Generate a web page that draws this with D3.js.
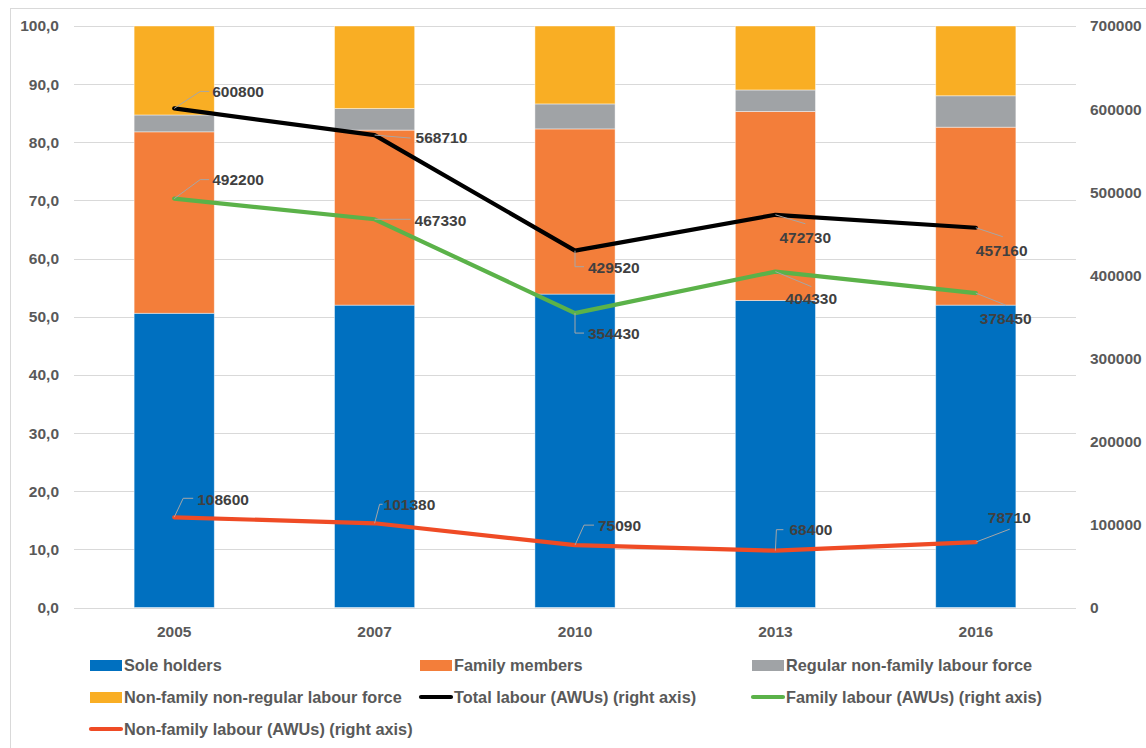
<!DOCTYPE html>
<html>
<head>
<meta charset="utf-8">
<script src="https://cdn.jsdelivr.net/npm/d3@7"></script>
<style>
  html, body { margin: 0; padding: 0; background: #fff; }
  svg { display: block; font-family: "Liberation Sans", Arial, sans-serif; }
</style>
</head>
<body>
<svg id="chart" width="1146" height="748"></svg>
<script>
// Years surveyed
const years = ["2005", "2007", "2010", "2013", "2016"];

// Share of labour force by category (%), stacked bars
const soleHolders = [50.6, 52.0, 53.9, 52.8, 52.0];
const familyMembers = [31.2, 30.1, 28.4, 32.5, 30.6];
const regularNonFamily = [2.9, 3.7, 4.3, 3.7, 5.4];
const nonRegularNonFamily = [15.3, 14.2, 13.4, 11.0, 12.0];

// Annual work units (right axis)
const totalLabour = [600800, 568710, 429520, 472730, 457160];
const familyLabour = [492200, 467330, 354430, 404330, 378450];
const nonFamilyLabour = [108600, 101380, 75090, 68400, 78710];

// Axis ticks
const leftTicks = [0, 10, 20, 30, 40, 50, 60, 70, 80, 90, 100];
const rightTicks = [0, 100000, 200000, 300000, 400000, 500000, 600000, 700000];

const barSeries = [
  { name: "Sole holders", values: soleHolders, color: "#0070C0" },
  { name: "Family members", values: familyMembers, color: "#F37E3A" },
  { name: "Regular non-family labour force", values: regularNonFamily, color: "#A0A3A6" },
  { name: "Non-family non-regular labour force", values: nonRegularNonFamily, color: "#F9AE24" }
];

const lineSeries = [
  { name: "Total labour (AWUs) (right axis)", values: totalLabour, color: "#000000" },
  { name: "Family labour (AWUs) (right axis)", values: familyLabour, color: "#5BB249" },
  { name: "Non-family labour (AWUs) (right axis)", values: nonFamilyLabour, color: "#EF4B25" }
];

// Data label placement: text offset (left edge, vertical centre) and leader polyline, relative to the point
const labelLayout = [
  [ // total
    { t: [38, -17], l: [[0, 0], [26, -17], [35, -17]] },
    { t: [41, 3],   l: [[0, 0], [36, 3]] },
    { t: [13, 17],  l: [[0, 0], [0, 16], [9, 16]] },
    { t: [4, 23],   l: [[0, 0], [30, 9]] },
    { t: [0, 23],   l: [[0, 0], [27, 9]] }
  ],
  [ // family
    { t: [38, -19], l: [[0, 0], [26, -19], [35, -19]] },
    { t: [40, 1],   l: [[0, 0], [36, 0]] },
    { t: [13, 21],  l: [[0, 0], [0, 20], [9, 20]] },
    { t: [10, 27],  l: [[0, 0], [36, 15]] },
    { t: [4, 25],   l: [[0, 0], [30, 12]] }
  ],
  [ // non-family
    { t: [23, -18], l: [[0, 0], [9, -19], [19, -19]] },
    { t: [9, -19],  l: [[0, 0], [5, -19], [8, -19]] },
    { t: [23, -20], l: [[0, 0], [9, -20], [19, -20]] },
    { t: [14, -21], l: [[0, 0], [1, -21], [8, -21]] },
    { t: [12, -25], l: [[0, 0], [34, -13]] }
  ]
];

const svg = d3.select("#chart");
const W = 1146, H = 748;
const plot = { left: 74, right: 1076, top: 26, bottom: 607.5 };
const FONT = "Liberation Sans, Arial, sans-serif";

// Chart frame
svg.append("rect")
  .attr("x", 10.5).attr("y", 8.5)
  .attr("width", W - 10).attr("height", H - 7)
  .attr("fill", "#fff").attr("stroke", "#D9D9D9").attr("stroke-width", 1);

const x = d3.scaleBand().domain(years).range([plot.left, plot.right]).paddingInner(0.6).paddingOuter(0.3);
const yL = d3.scaleLinear().domain([0, 100]).range([plot.bottom, plot.top]);
const yR = d3.scaleLinear().domain([0, 700000]).range([plot.bottom, plot.top]);

// Gridlines
svg.append("g")
  .selectAll("line")
  .data(leftTicks)
  .join("line")
  .attr("x1", plot.left).attr("x2", plot.right)
  .attr("y1", d => Math.round(yL(d)) + 0.5).attr("y2", d => Math.round(yL(d)) + 0.5)
  .attr("stroke", "#D9D9D9").attr("stroke-width", 1);

function styleAxisText(g) {
  g.select(".domain").remove();
  g.selectAll("text")
    .attr("font-size", 15.5).attr("font-weight", "bold").attr("fill", "#595959")
    .attr("font-family", FONT);
}

// Left axis
svg.append("g")
  .attr("transform", `translate(${plot.left - 15},0)`)
  .call(d3.axisLeft(yL).tickValues(leftTicks).tickSize(0).tickPadding(0)
    .tickFormat(d => d3.format(".1f")(d).replace(".", ",")))
  .call(styleAxisText);

// Right axis
svg.append("g")
  .attr("transform", `translate(${plot.right + 14},0)`)
  .call(d3.axisRight(yR).tickValues(rightTicks).tickSize(0).tickPadding(0)
    .tickFormat(d3.format("d")))
  .call(styleAxisText);

// Bottom axis
svg.append("g")
  .attr("transform", `translate(0,${plot.bottom + 14})`)
  .call(d3.axisBottom(x).tickSize(0).tickPadding(4))
  .call(styleAxisText);

// Stacked bars
const stackRows = years.map((yr, i) => {
  const row = { year: yr };
  barSeries.forEach(s => { row[s.name] = s.values[i]; });
  return row;
});
const stacked = d3.stack().keys(barSeries.map(s => s.name))(stackRows);

svg.append("g")
  .selectAll("g")
  .data(stacked)
  .join("g")
  .attr("fill", (d, i) => barSeries[i].color)
  .selectAll("rect")
  .data(d => d)
  .join("rect")
  .attr("x", d => x(d.data.year))
  .attr("width", x.bandwidth())
  .attr("y", d => yL(d[1]))
  .attr("height", d => yL(d[0]) - yL(d[1]))
  .attr("stroke", "rgba(255,255,255,0.55)")
  .attr("stroke-width", 0.8);

// Lines on the right axis
const line = d3.line()
  .x((d, i) => x(years[i]) + x.bandwidth() / 2)
  .y(d => yR(d));

lineSeries.forEach(s => {
  svg.append("path")
    .datum(s.values)
    .attr("d", line)
    .attr("fill", "none")
    .attr("stroke", s.color)
    .attr("stroke-width", 4.2)
    .attr("stroke-linejoin", "round")
    .attr("stroke-linecap", "round");
});

// Data labels with leader lines
lineSeries.forEach((s, si) => {
  const g = svg.append("g");
  s.values.forEach((v, i) => {
    const px = x(years[i]) + x.bandwidth() / 2;
    const py = yR(v);
    const lay = labelLayout[si][i];
    g.append("polyline")
      .attr("points", lay.l.map(p => `${px + p[0]},${py + p[1]}`).join(" "))
      .attr("fill", "none")
      .attr("stroke", "#A6A6A6")
      .attr("stroke-width", 1);
    g.append("text")
      .attr("x", px + lay.t[0])
      .attr("y", py + lay.t[1])
      .attr("dy", "0.35em")
      .attr("font-size", 15.5)
      .attr("font-weight", "bold")
      .attr("fill", "#404040")
      .text(v);
  });
});

// Legend
const legendItems = [
  { s: barSeries[0], kind: "bar", col: 0, row: 0 },
  { s: barSeries[1], kind: "bar", col: 1, row: 0 },
  { s: barSeries[2], kind: "bar", col: 2, row: 0 },
  { s: barSeries[3], kind: "bar", col: 0, row: 1 },
  { s: lineSeries[0], kind: "line", col: 1, row: 1 },
  { s: lineSeries[1], kind: "line", col: 2, row: 1 },
  { s: lineSeries[2], kind: "line", col: 0, row: 2 }
];
const colX = [90, 420, 752];
const rowY = [665, 697, 729];

const lg = svg.append("g");
legendItems.forEach(it => {
  const lx = colX[it.col], ly = rowY[it.row];
  if (it.kind === "bar") {
    lg.append("rect")
      .attr("x", lx).attr("y", ly - 5)
      .attr("width", 32).attr("height", 11)
      .attr("fill", it.s.color);
  } else {
    lg.append("line")
      .attr("x1", lx + 1).attr("x2", lx + 31)
      .attr("y1", ly).attr("y2", ly)
      .attr("stroke", it.s.color).attr("stroke-width", 4.2)
      .attr("stroke-linecap", "round");
  }
  lg.append("text")
    .attr("x", lx + 34).attr("y", ly)
    .attr("dy", "0.35em")
    .attr("font-size", 16.3).attr("font-weight", "bold")
    .attr("fill", "#595959")
    .text(it.s.name);
});
</script>
</body>
</html>
